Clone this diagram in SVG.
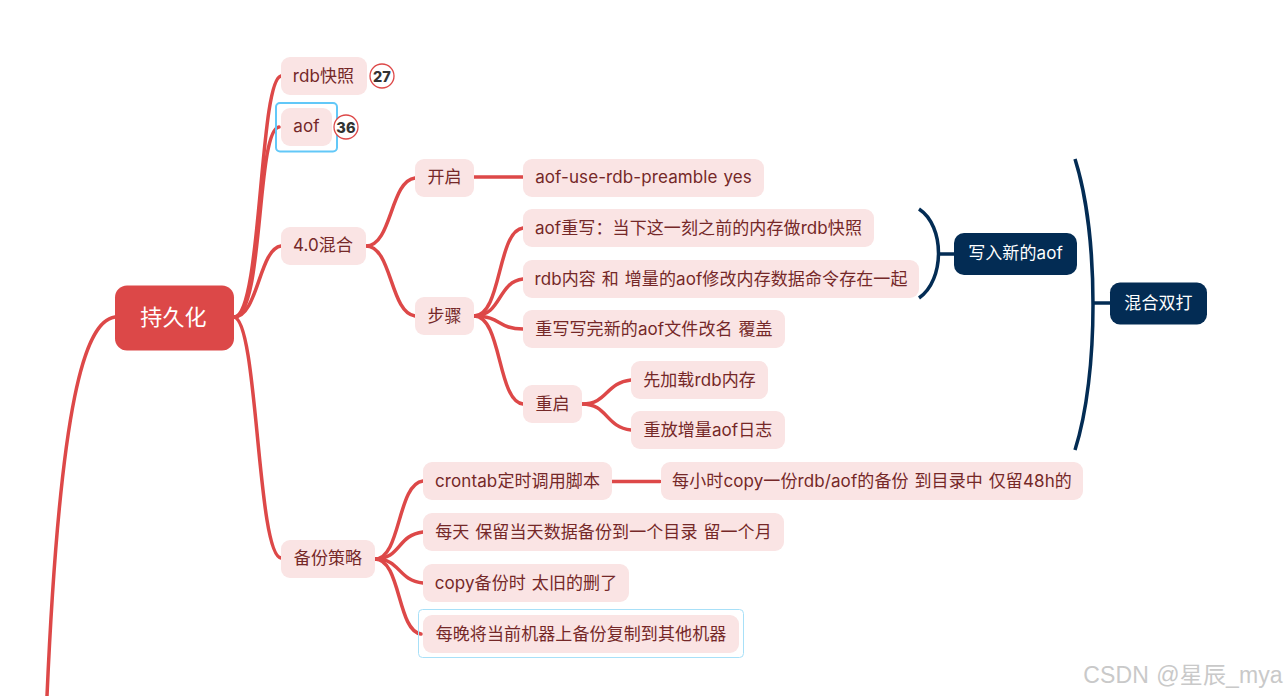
<svg xmlns="http://www.w3.org/2000/svg" width="1284" height="696" viewBox="0 0 1284 696">
<style>
text{font-family:"Inter","Noto Sans CJK SC",sans-serif;font-size:17px;letter-spacing:.1px;word-spacing:1px;text-anchor:middle;dominant-baseline:central}
.n rect{fill:#fae4e4}
.n text{fill:#752828}
.d rect{fill:#032c54}
.d text{fill:#fff}
.c path{fill:none;stroke:#dd4848;stroke-width:3.500;stroke-linecap:round}
.b path{fill:none;stroke:#032c54;stroke-width:3.500}
.bd{fill:#fff;stroke:#dd4848;stroke-width:1.300}
.bt{font-size:14.500px;font-weight:800;fill:#333}
</style>
<rect width="1284" height="696" fill="#fff"/>
<g class="c" id="connectors">
<path d="M115 317C85 321 60 400 47 696"/>
<path d="M234 317C262 317 259 80 281 76"/>
<path d="M234 317C264 317 256 130 279 127"/>
<path d="M234 317C258 317 259 249 281 246"/>
<path d="M234 317C258 320 257 555 281 558"/>
<path d="M366 246C392 246 390 181 415 178"/>
<path d="M366 246C392 246 390 313 415 316"/>
<path d="M474 177H523"/>
<path d="M474 316C502 316 497 231 523 228"/>
<path d="M474 316C502 316 497 282 523 279"/>
<path d="M474 316C502 316 497 329 523 329"/>
<path d="M474 316C502 316 497 401 523 404"/>
<path d="M582 404C608 404 605 383 631 380"/>
<path d="M582 404C608 404 605 427 631 430"/>
<path d="M375 559C401 559 397 484 423 481"/>
<path d="M375 559C401 559 397 535 423 532"/>
<path d="M375 559C401 559 397 580 423 583"/>
<path d="M375 559C401 559 397 631 421 634"/>
<path d="M612 481.500H660"/>
</g>
<g class="b" id="boundaries">
<path d="M919 209C945 226 945 280 919 298"/>
<path d="M938 254H954"/>
<path d="M1075 159C1099 235 1099 375 1075 450"/>
<path d="M1094 303H1110"/>
</g>
<g id="root"><rect x="115" y="285.500" width="119" height="65" rx="12" fill="#dc4848"/><text x="173.500" y="317" fill="#fff" style="font-size:22px">持久化</text></g>
<g id="n-rdb" class="n"><rect x="281" y="57" width="86" height="38" rx="9"/><text x="323.500" y="75.500">rdb快照</text></g>
<g id="badge-27"><circle class="bd" cx="382" cy="76" r="12"/><text class="bt" x="382" y="76">27</text></g>
<g id="n-aof" class="n"><rect x="276" y="103" width="61" height="48.500" rx="4" style="fill:none;stroke:#62c8f8;stroke-width:2"/><rect x="281" y="108" width="51" height="38" rx="9"/><text x="306.500" y="126">aof</text></g>
<g id="badge-36"><circle class="bd" cx="346" cy="127" r="12"/><text class="bt" x="346" y="127">36</text></g>
<g id="n-mix" class="n"><rect x="281" y="227" width="85" height="38" rx="9"/><text x="323" y="245">4.0混合</text></g>
<g id="n-open" class="n"><rect x="415" y="159" width="59" height="38" rx="9"/><text x="444.500" y="177">开启</text></g>
<g id="n-pre" class="n"><rect x="523" y="159" width="241" height="38" rx="9"/><text x="643.500" y="177">aof-use-rdb-preamble yes</text></g>
<g id="n-steps" class="n"><rect x="415" y="297" width="59" height="38" rx="9"/><text x="444.500" y="316">步骤</text></g>
<g id="n-rewrite" class="n"><rect x="523" y="209" width="351" height="38" rx="9"/><text x="698.500" y="228">aof重写：当下这一刻之前的内存做rdb快照</text></g>
<g id="n-content" class="n"><rect x="523" y="260" width="396" height="38" rx="9"/><text x="721" y="279">rdb内容 和 增量的aof修改内存数据命令存在一起</text></g>
<g id="n-rename" class="n"><rect x="523" y="310" width="262" height="38" rx="9"/><text x="654" y="329">重写写完新的aof文件改名 覆盖</text></g>
<g id="n-restart" class="n"><rect x="523" y="385" width="59" height="38" rx="9"/><text x="552.500" y="404">重启</text></g>
<g id="n-load" class="n"><rect x="631" y="361" width="137" height="38" rx="9"/><text x="699.500" y="380">先加载rdb内存</text></g>
<g id="n-replay" class="n"><rect x="631" y="411" width="154" height="38" rx="9"/><text x="708" y="430">重放增量aof日志</text></g>
<g id="n-backup" class="n"><rect x="281" y="540" width="94" height="38" rx="9"/><text x="328" y="558">备份策略</text></g>
<g id="n-cron" class="n"><rect x="423" y="462" width="189" height="38" rx="9"/><text x="517.500" y="481">crontab定时调用脚本</text></g>
<g id="n-hour" class="n"><rect x="661" y="462" width="422" height="38" rx="9"/><text x="872" y="481">每小时copy一份rdb/aof的备份 到目录中 仅留48h的</text></g>
<g id="n-day" class="n"><rect x="423" y="513" width="361" height="38" rx="9"/><text x="603.500" y="532">每天 保留当天数据备份到一个目录 留一个月</text></g>
<g id="n-old" class="n"><rect x="423" y="564" width="206" height="38" rx="9"/><text x="526" y="583">copy备份时 太旧的删了</text></g>
<g id="n-night" class="n"><rect x="418.500" y="609.500" width="325" height="48" rx="4" style="fill:none;stroke:#a8e0f8;stroke-width:1"/><rect x="423" y="615" width="316" height="38" rx="9"/><text x="581" y="634">每晚将当前机器上备份复制到其他机器</text></g>
<g id="s-aof" class="d"><rect x="954" y="233" width="123" height="42" rx="10"/><text x="1015.500" y="253">写入新的aof</text></g>
<g id="s-mix" class="d"><rect x="1110" y="282.500" width="97" height="42" rx="10"/><text x="1158.500" y="303">混合双打</text></g>
<text id="watermark" x="1183" y="675" fill="#c9c9c9" style="font-size:23px;font-family:'Liberation Sans','Noto Sans CJK SC',sans-serif">CSDN @星辰_mya</text>
</svg>
